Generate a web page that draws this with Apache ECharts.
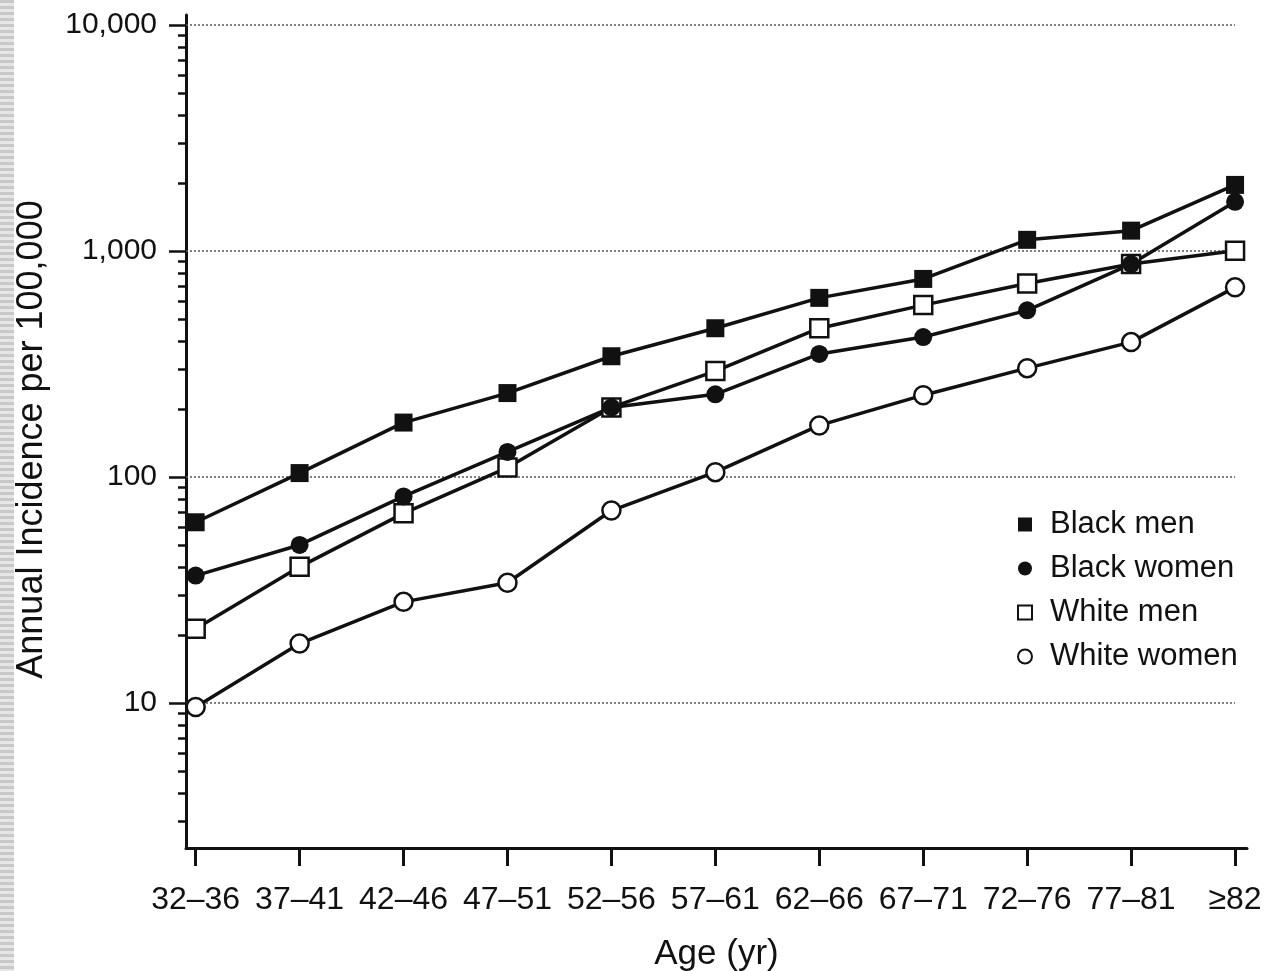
<!DOCTYPE html>
<html>
<head>
<meta charset="utf-8">
<script src="https://cdn.jsdelivr.net/npm/echarts@6/dist/echarts.min.js"></script>
<style>
  html, body { margin: 0; padding: 0; background: #fff; }
  #strip {
    position: absolute; left: 0; top: 0; width: 14px; height: 971px;
    background: repeating-linear-gradient(#c8c8c8 0 3px, #e6e6e6 3px 6px);
  }
  #chart { width: 1266px; height: 971px; }
</style>
</head>
<body>
<div id="strip"></div>
<div id="chart"></div>
<script>
  const ageGroups = ["32–36", "37–41", "42–46", "47–51", "52–56", "57–61", "62–66", "67–71", "72–76", "77–81", "≥82"]
  const blackMen = [63, 104, 174, 235, 342, 455, 620, 752, 1120, 1230, 1960]
  const blackWomen = [36.6, 50, 82, 129, 203, 232, 350, 416, 546, 875, 1650]
  const whiteMen = [21.3, 40, 69, 110, 203, 294, 455, 576, 718, 875, 1003]
  const whiteWomen = [9.6, 18.3, 28, 34, 71, 105, 169, 230, 303, 395, 690]
  const majorTicks = [10, 100, 1000, 10000]
  const minorTicks = [3, 4, 5, 6, 7, 8, 9, 20, 30, 40, 50, 60, 70, 80, 90,
    200, 300, 400, 500, 600, 700, 800, 900, 2000, 3000, 4000, 5000, 6000, 7000, 8000, 9000]

  const ink = "#111"
  const font = "Liberation Sans, Arial, sans-serif"
  const xMin = -0.093
  const xMax = 10.115
  const yMin = 2.28
  const yMax = 11070

  function pts(arr) {
    return arr.map((v, i) => [i, v])
  }

  function mkSeries(name, data, symbol, filled) {
    return {
      name: name,
      type: "line",
      data: pts(data),
      symbol: symbol,
      symbolSize: 18,
      showAllSymbol: true,
      lineStyle: { color: ink, width: 3.5 },
      itemStyle: {
        color: filled ? ink : "#fff",
        borderColor: ink,
        borderWidth: filled ? 0 : 2.5,
      },
      emphasis: { disabled: true },
      animation: false,
    }
  }

  // dotted guide lines at each decade, from the y axis to the last age group
  const gridLines = majorTicks.map((v) => [
    { coord: [xMin, v] },
    { coord: [ageGroups.length - 1, v] },
  ])

  const series = [
    mkSeries("White women", whiteWomen, "circle", false),
    mkSeries("White men", whiteMen, "rect", false),
    mkSeries("Black women", blackWomen, "circle", true),
    mkSeries("Black men", blackMen, "rect", true),
  ]
  series[0].markLine = {
    silent: true,
    symbol: "none",
    label: { show: false },
    lineStyle: { color: "#555", width: 1.5, type: [2, 2] },
    z: 1,
    data: gridLines,
  }

  const chart = echarts.init(document.getElementById("chart"))
  chart.setOption({
    animation: false,
    grid: { left: 186, right: 19, top: 15, bottom: 123, outerBoundsMode: "none", containLabel: false },
    legend: {
      orient: "vertical",
      left: 1012,
      top: 504,
      itemGap: 13,
      itemWidth: 14,
      itemHeight: 14,
      textStyle: { fontFamily: font, fontSize: 31, color: ink, padding: [0, 0, 0, 13] },
      data: [
        { name: "Black men", icon: "rect" },
        { name: "Black women", icon: "circle" },
        { name: "White men", icon: "rect" },
        { name: "White women", icon: "circle" },
      ],
    },
    xAxis: {
      type: "value",
      min: xMin,
      max: xMax,
      name: "Age (yr)",
      nameLocation: "middle",
      nameGap: 89,
      nameTextStyle: { fontFamily: font, fontSize: 35, color: ink },
      axisLine: { onZero: false, lineStyle: { color: ink, width: 3 } },
      axisTick: {
        customValues: ageGroups.map((_, i) => i),
        length: 18,
        lineStyle: { color: ink, width: 3 },
      },
      axisLabel: {
        customValues: ageGroups.map((_, i) => i),
        formatter: (v) => ageGroups[Math.round(v)],
        margin: 36,
        fontFamily: font,
        fontSize: 32,
        color: ink,
      },
      splitLine: { show: false },
    },
    yAxis: [
      {
        type: "log",
        min: yMin,
        max: yMax,
        name: "Annual Incidence per 100,000",
        nameLocation: "middle",
        nameGap: 136,
        nameTextStyle: { fontFamily: font, fontSize: 36, color: ink, padding: [0, 16, 0, 0] },
        axisLine: { show: true, onZero: false, lineStyle: { color: ink, width: 3 } },
        axisTick: {
          customValues: majorTicks,
          length: 17,
          lineStyle: { color: ink, width: 2.5 },
        },
        axisLabel: {
          customValues: majorTicks,
          formatter: (v) => Number(v).toLocaleString("en-US"),
          margin: 29,
          fontFamily: font,
          fontSize: 30,
          color: ink,
        },
        splitLine: { show: false },
      },
      {
        type: "log",
        min: yMin,
        max: yMax,
        position: "left",
        axisLine: { show: false, onZero: false },
        axisTick: {
          customValues: minorTicks,
          length: 8,
          lineStyle: { color: ink, width: 2.5 },
        },
        axisLabel: { show: false },
        splitLine: { show: false },
      },
    ],
    series: series,
  })
</script>
</body>
</html>
